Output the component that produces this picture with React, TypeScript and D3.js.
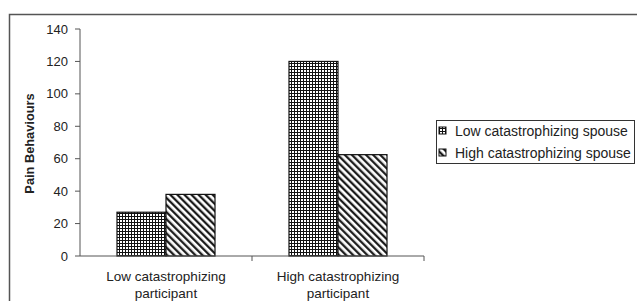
import React from "react";
import * as d3 from "d3";

const categories = ["Low catastrophizing participant", "High catastrophizing participant"];
const categoryLines = [["Low catastrophizing", "participant"], ["High catastrophizing", "participant"]];
const series = ["Low catastrophizing spouse", "High catastrophizing spouse"];
const values = [
  [27, 38],
  [120, 62.5],
];
const yTicks = [0, 20, 40, 60, 80, 100, 120, 140];

const W = 637;
const H = 301;
const margin = { top: 29, left: 80, right: 213, bottom: 45 };
const font = "'Liberation Sans', Arial, sans-serif";
const ink = "#222";

export default function App() {
  const x0 = d3.scaleBand().domain(categories).range([margin.left, W - margin.right]);
  const x1 = d3.scaleBand().domain(series).range([0, x0.bandwidth()]).paddingOuter(0.755).paddingInner(0);
  const y = d3.scaleLinear().domain([0, 140]).range([H - margin.bottom, margin.top]);
  const fills = ["url(#cross)", "url(#diag)"];
  const y0 = y(0);

  return (
    <svg width={W} height={H} style={{ position: "fixed", left: 0, top: 0, background: "#fff" }}>
      <defs>
        <pattern id="cross" width={3} height={3} patternUnits="userSpaceOnUse">
          <rect width={3} height={3} fill="#fff" />
          <line x1={0.5} y1={0} x2={0.5} y2={3} stroke="#111" strokeWidth={1} />
          <line x1={0} y1={0.5} x2={3} y2={0.5} stroke="#111" strokeWidth={1} />
        </pattern>
        <pattern id="diag" width={5} height={5} patternUnits="userSpaceOnUse" patternTransform="rotate(-45)">
          <rect width={5} height={5} fill="#fff" />
          <line x1={1.2} y1={0} x2={1.2} y2={5} stroke="#111" strokeWidth={2.2} />
        </pattern>
      </defs>

      {/* outer frame (only top and left visible) */}
      <rect x={9.5} y={14.5} width={700} height={400} fill="none" stroke="#555" strokeWidth={1.5} />

      {/* bars */}
      {categories.map((c, i) => (
        <g key={c} transform={`translate(${x0(c)},0)`}>
          {series.map((s, j) => (
            <rect
              key={s}
              x={x1(s)}
              y={y(values[i][j])}
              width={x1.bandwidth()}
              height={y0 - y(values[i][j])}
              fill={fills[j]}
              stroke="#111"
              strokeWidth={1.2}
            />
          ))}
        </g>
      ))}

      {/* y axis */}
      <line x1={margin.left} x2={margin.left} y1={y(140)} y2={y0} stroke="#555" />
      {yTicks.map((t) => (
        <g key={t}>
          <line x1={margin.left - 5} x2={margin.left} y1={y(t)} y2={y(t)} stroke="#555" />
          <text x={margin.left - 12} y={y(t)} dy="0.35em" textAnchor="end" fontFamily={font} fontSize={13} fill={ink}>
            {t}
          </text>
        </g>
      ))}
      <text
        transform={`translate(34,${(y(140) + y0) / 2 + 1}) rotate(-90)`}
        textAnchor="middle"
        fontFamily={font}
        fontSize={12.8}
        fontWeight="bold"
        fill={ink}
      >
        Pain Behaviours
      </text>

      {/* x axis */}
      <line x1={margin.left} x2={W - margin.right} y1={y0} y2={y0} stroke="#555" />
      {[...categories.map((c) => x0(c) as number), W - margin.right].map((tx, i) =>
        i === 0 ? null : <line key={i} x1={tx} x2={tx} y1={y0} y2={y0 + 5} stroke="#555" />
      )}
      {categories.map((c, i) => (
        <text key={c} textAnchor="middle" fontFamily={font} fontSize={13.5} fill={ink}>
          {categoryLines[i].map((ln, k) => (
            <tspan key={k} x={(x0(c) as number) + x0.bandwidth() / 2} y={y0 + 25 + k * 17}>
              {ln}
            </tspan>
          ))}
        </text>
      ))}

      {/* legend */}
      <rect x={436.5} y={120.5} width={198} height={43} fill="#fff" stroke="#333" strokeWidth={1} />
      {series.map((s, j) => (
        <g key={s} transform={`translate(439,${131 + j * 22})`}>
          <rect x={0} y={-4} width={7} height={7} fill={fills[j]} stroke="#111" strokeWidth={1} />
          <text x={16} y={0} dy="0.35em" fontFamily={font} fontSize={14} fill={ink}>
            {s}
          </text>
        </g>
      ))}
    </svg>
  );
}
